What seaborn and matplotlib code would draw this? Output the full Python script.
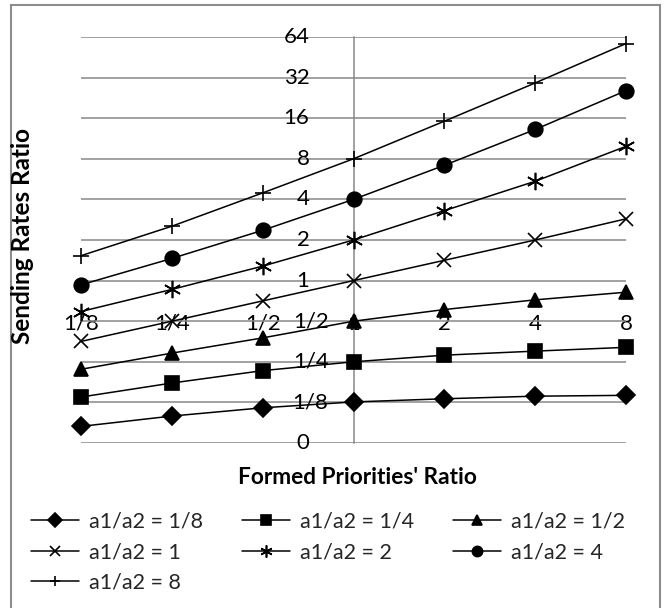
import numpy as np
import pandas as pd
import matplotlib
matplotlib.use("Agg")
import matplotlib.pyplot as plt
import seaborn as sns
from matplotlib.patches import Rectangle
from matplotlib.transforms import offset_copy
from matplotlib.ticker import NullLocator

# formed priorities' ratio (x categories)
priority_labels = ["1/8", "1/4", "1/2", "1", "2", "4", "8"]

series_labels = ["a1/a2 = 1/8", "a1/a2 = 1/4", "a1/a2 = 1/2", "a1/a2 = 1",
                 "a1/a2 = 2", "a1/a2 = 4", "a1/a2 = 8"]

# sending rates ratio
rate_a_1_8 = [0.083, 0.099, 0.114, 0.126, 0.133, 0.139, 0.141]
rate_a_1_4 = [0.137, 0.174, 0.215, 0.25, 0.28, 0.30, 0.32]
rate_a_1_2 = [0.22, 0.29, 0.376, 0.5, 0.61, 0.72, 0.82]
rate_a_1 = [0.354, 0.5, 0.707, 1.0, 1.414, 2.0, 2.87]
rate_a_2 = [0.59, 0.86, 1.28, 2.0, 3.3, 5.45, 9.9]
rate_a_4 = [0.93, 1.46, 2.36, 4.0, 7.16, 13.2, 25.6]
rate_a_8 = [1.53, 2.53, 4.47, 8.0, 15.2, 29.2, 57.2]

y_tick_values = [1 / 16, 1 / 8, 1 / 4, 1 / 2, 1, 2, 4, 8, 16, 32, 64]
y_tick_labels = ["0", "1/8", "1/4", "1/2", "1", "2", "4", "8", "16", "32", "64"]

all_rates = [rate_a_1_8, rate_a_1_4, rate_a_1_2, rate_a_1, rate_a_2, rate_a_4, rate_a_8]
rows = []
for name, vals in zip(series_labels, all_rates):
    for i, v in enumerate(vals):
        rows.append({"series": name, "pos": i, "rate": v})
df = pd.DataFrame(rows)

markers = ["D", "s", "^", "x", (6, 2, 0), "o", "+"]
sizes = [9.5, 10.5, 10.5, 10, 12.5, 10.5, 11]

sns.set_theme(style="white")
plt.rcParams["font.family"] = ["Lato", "DejaVu Sans"]

GRID = "#878787"
W, H = 665, 608

fig = plt.figure(figsize=(W / 100, H / 100), dpi=100)
ax = fig.add_axes([81 / W, 1 - 443 / H, (626 - 81) / W, (443 - 37) / H])

for name, m, ms in zip(series_labels, markers, sizes):
    sub = df[df["series"] == name]
    sns.lineplot(data=sub, x="pos", y="rate", color="black", marker=m,
                 markersize=ms, markeredgecolor="black", markeredgewidth=1.2,
                 linewidth=1.1, errorbar=None, sort=False, clip_on=False,
                 label=name, ax=ax)

ax.set_yscale("log", base=2)
ax.set_ylim(1 / 16, 64)
ax.set_xlim(0, 6)
ax.set_yticks(y_tick_values)
ax.set_yticklabels([])
ax.yaxis.set_minor_locator(NullLocator())
ax.tick_params(axis="y", length=0)
ax.yaxis.grid(True, color=GRID, linewidth=1.1)
ax.xaxis.grid(False)
ax.set_axisbelow(True)

for s in ["top", "right", "bottom"]:
    ax.spines[s].set_visible(False)
ax.spines["left"].set_position(("data", 3))
ax.spines["left"].set_color(GRID)
ax.spines["left"].set_linewidth(1.1)
ax.spines["left"].set_zorder(1)
ax.spines["bottom"].set_position(("data", 0.5))

ax.set_xticks(range(len(priority_labels)))
ax.set_xticklabels(priority_labels, fontsize=16, color="black")
ax.tick_params(axis="x", length=0, pad=-5.5)
ax.set_xlabel("")
ax.set_ylabel("")

# value labels next to the vertical axis (Excel fraction format)
for v, lab in zip(y_tick_values, y_tick_labels):
    shift = 25 if "/" in lab else 44
    tr = offset_copy(ax.transData, fig=fig, x=-shift, y=0, units="dots")
    ax.text(3, v, lab, transform=tr, ha="right", va="center", fontsize=16, color="black")

fig.text(23 / W, 1 - 236 / H, "Sending Rates Ratio", rotation=90, ha="center",
         va="center", fontsize=17.5, fontweight="bold", color="black")
fig.text(357 / W, 1 - 478 / H, "Formed Priorities' Ratio", ha="center",
         va="center", fontsize=16.3, fontweight="bold", color="black")

handles, labels = ax.get_legend_handles_labels()
order = [0, 3, 6, 1, 4, 2, 5]
ax.legend([handles[i] for i in order], [labels[i] for i in order],
          loc="upper left", bbox_to_anchor=(31 / W, 1 - 512 / H),
          bbox_transform=fig.transFigure, ncol=3, frameon=False, fontsize=15.5,
          handlelength=2.25, handletextpad=0.45, columnspacing=1.8,
          labelspacing=0.48, markerscale=0.7, borderpad=0, borderaxespad=0)

fig.add_artist(Rectangle((11 / W, -0.05), (660 - 11) / W, 1 - 5 / H + 0.05,
                         transform=fig.transFigure, fill=False,
                         edgecolor="#8c8c8c", linewidth=1.5))

fig.savefig("out.png", dpi=100)
